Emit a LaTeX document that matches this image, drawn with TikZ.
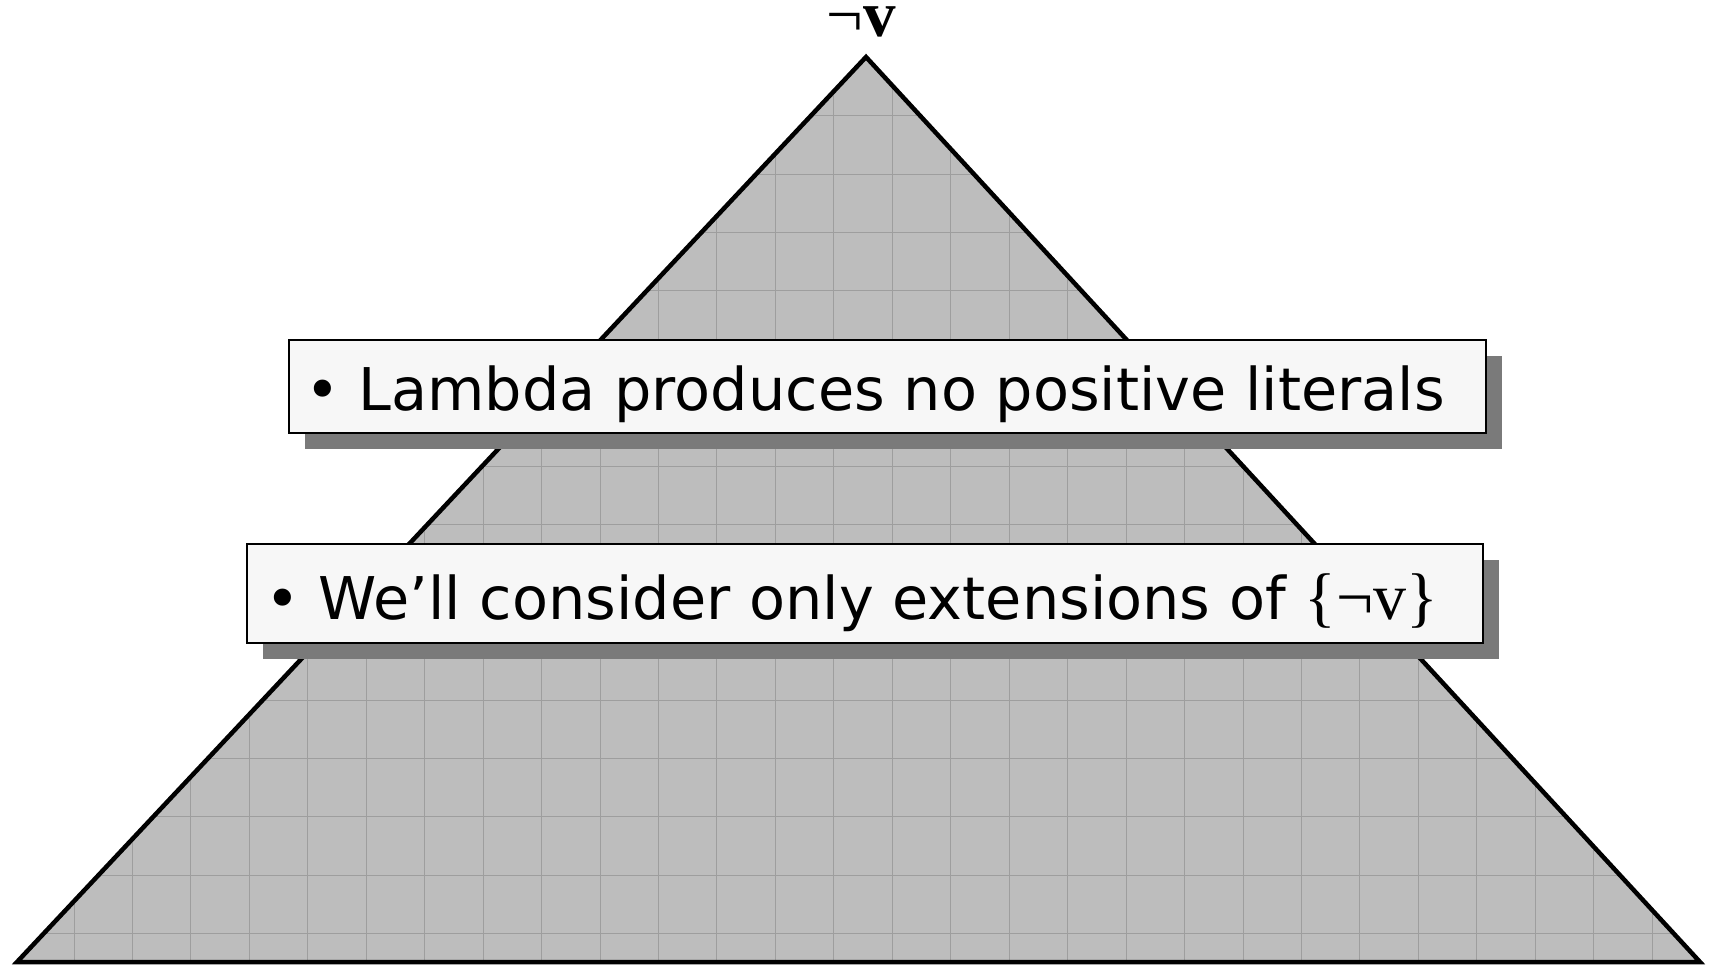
\documentclass[tikz,border=0pt]{standalone}
\usepackage{fontspec}
\setmainfont{DejaVu Sans}
\newfontfamily\serifx{Liberation Serif}
\usetikzlibrary{shadows}
\definecolor{trifill}{HTML}{BDBDBD}
\definecolor{gridc}{HTML}{9E9E9E}
\definecolor{boxfill}{HTML}{F7F7F7}
\definecolor{shadowc}{HTML}{7A7A7A}
\tikzset{
  gridline/.style={draw=gridc, line width=1pt},
  outline/.style={draw=black, line width=4.5pt, line join=miter},
  textbox/.style={draw=black, line width=2pt, fill=boxfill, inner sep=0pt,
    drop shadow={shadow xshift=16pt, shadow yshift=-16pt, fill=shadowc, opacity=1}},
  bodytext/.style={inner sep=0pt, anchor=base west, font=\fontsize{58.9}{70}\selectfont},
}
\begin{document}
\begin{tikzpicture}[x=1pt,y=-1pt]
\useasboundingbox (0,0) rectangle (1716,966);
\coordinate (A) at (866,57);
\coordinate (L) at (17,962);
\coordinate (R) at (1700,962);
\begin{scope}
  \clip (A) -- (L) -- (R) -- cycle;
  \fill[trifill] (0,0) rectangle (1716,966);
  \foreach \i in {-2,...,28} {\draw[gridline] ({74+58.45*\i},0) -- ({74+58.45*\i},966);}
  \foreach \j in {-3,...,14} {\draw[gridline] (0,{174+58.45*\j}) -- (1716,{174+58.45*\j});}
\end{scope}
\draw[outline] (A) -- (L) -- (R) -- cycle;
\node[inner sep=0pt, anchor=base, text height=31pt, text depth=0pt, font=\serifx\fontsize{65}{70}\selectfont] (top) at (861,37) {¬\textbf{v}};
\node[textbox, minimum width=1197pt, minimum height=93pt] (b1) at (887.5,386.5) {};
\node[bodytext] (t1) at (305,410) {• Lambda produces no positive literals};
\node[textbox, minimum width=1236pt, minimum height=99pt] (b2) at (865,593.5) {};
\node[bodytext] (t2) at (265,619) {• We’ll consider only extensions of {\serifx\fontsize{66}{70}\selectfont\{¬v\}}};
\end{tikzpicture}
\end{document}
